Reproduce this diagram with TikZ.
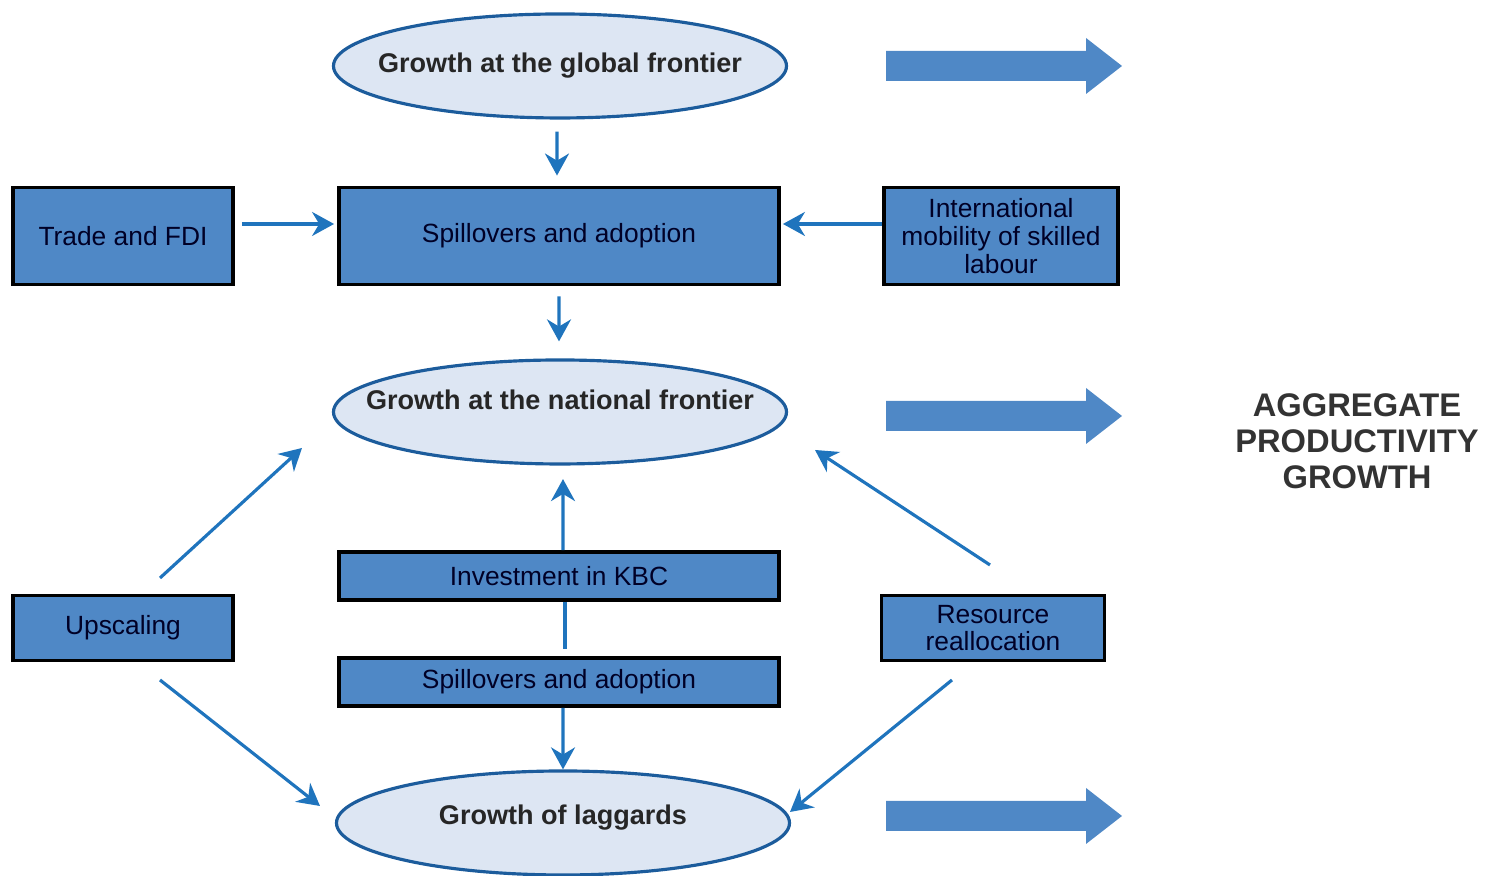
\documentclass[tikz,border=0pt]{standalone}
\usepackage{fontspec}
\setmainfont{Liberation Sans}
\usetikzlibrary{shapes.geometric,arrows.meta}
\definecolor{boxblue}{RGB}{79,136,198}
\definecolor{ovalfill}{RGB}{221,230,243}
\definecolor{ovalline}{RGB}{28,92,156}
\definecolor{flowblue}{RGB}{31,116,189}
\begin{document}
\begin{tikzpicture}[
box/.style={draw=black, line width=1.1pt, fill=boxblue, inner sep=0pt, align=center, font=\fontsize{7.5}{7.9}\selectfont, text=black!85!blue},
oval/.style={ellipse, draw=ovalline, line width=0.9pt, fill=ovalfill, minimum width=4.53cm, minimum height=1.04cm, inner sep=0pt},
ovaltxt/.style={inner sep=0pt, font=\bfseries\fontsize{7.7}{9}\selectfont, text=black!85},
flow/.style={draw=flowblue, line width=0.9pt, -{Stealth[length=2.2mm,width=2.4mm]}},
bigarr/.style={fill=boxblue}
]
\useasboundingbox (0,0) rectangle (14.86,8.76);

\node[oval, label={[ovaltxt]center:Growth at the global frontier}] (glob) at (5.60,8.10) {};
\node[oval, label={[ovaltxt,yshift=1.2mm]center:Growth at the national frontier}] (nat) at (5.60,4.64) {};
\node[oval, label={[ovaltxt,yshift=0.5mm]center:Growth of laggards}] (lag) at (5.63,0.53) {};

\node[box, minimum width=2.20cm, minimum height=0.97cm] (trade) at (1.23,6.40) {Trade and FDI};
\node[box, minimum width=4.40cm, minimum height=0.97cm] (spillA) at (5.59,6.40) {Spillovers and adoption};
\node[box, minimum width=2.34cm, minimum height=0.97cm] (intl) at (10.01,6.40) {International\\mobility of skilled\\labour};
\node[box, minimum width=4.40cm, minimum height=0.48cm] (kbc) at (5.59,3.00) {Investment in KBC};
\node[box, minimum width=4.40cm, minimum height=0.48cm] (spillB) at (5.59,1.94) {Spillovers and adoption};
\node[box, minimum width=2.20cm, minimum height=0.65cm] (upsc) at (1.23,2.48) {Upscaling};
\node[box, minimum width=2.23cm, minimum height=0.65cm] (realloc) at (9.93,2.48) {Resource\\reallocation};

\node[align=center, font=\bfseries\fontsize{9.3}{10.2}\selectfont, text=black!80] (agg) at (13.57,4.35) {AGGREGATE\\PRODUCTIVITY\\GROWTH};

\coordinate (upA) at (1.60,2.98);
\coordinate (upB) at (3.02,4.28);
\coordinate (upC) at (1.60,1.96);
\coordinate (upD) at (3.20,0.70);
\coordinate (raA) at (9.90,3.11);
\coordinate (raB) at (8.15,4.26);
\coordinate (raC) at (9.52,1.96);
\coordinate (raD) at (7.90,0.64);

\draw[flow, shorten <=1.2mm, shorten >=1mm] ([xshift=-0.3mm]glob.south) -- ([xshift=-0.2mm]spillA.north);
\draw[flow, shorten <=0.7mm, shorten >=0.3mm] ([yshift=1.2mm]trade.east) -- ([yshift=1.2mm]spillA.west);
\draw[flow, shorten >=0.2mm] ([yshift=1.2mm]intl.west) -- ([yshift=1.2mm]spillA.east);
\draw[flow, shorten <=1mm, shorten >=1.7mm] (spillA.south) -- ([xshift=-0.1mm]nat.south |- nat.north);
\draw[flow, shorten >=1.35mm] ([xshift=0.4mm]kbc.north) -- ([xshift=0.3mm]nat.south);
\draw[draw=flowblue, line width=0.9pt, shorten >=0.7mm] ([xshift=0.6mm]kbc.south) -- ([xshift=0.6mm]spillB.north);
\draw[flow] ([xshift=0.4mm]spillB.south) -- (lag.north);
\draw[flow] (upA) -- (upB);
\draw[flow] (upC) -- (upD);
\draw[flow] (raA) -- (raB);
\draw[flow] (raC) -- (raD);

\foreach \y in {8.10,4.60,0.60}
  \fill[bigarr] (8.86,\y) ++(0,-0.15) -- ++(2,0) -- ++(0,-0.13) -- ++(0.36,0.28) -- ++(-0.36,0.28) -- ++(0,-0.13) -- ++(-2,0) -- cycle;
\end{tikzpicture}
\end{document}
